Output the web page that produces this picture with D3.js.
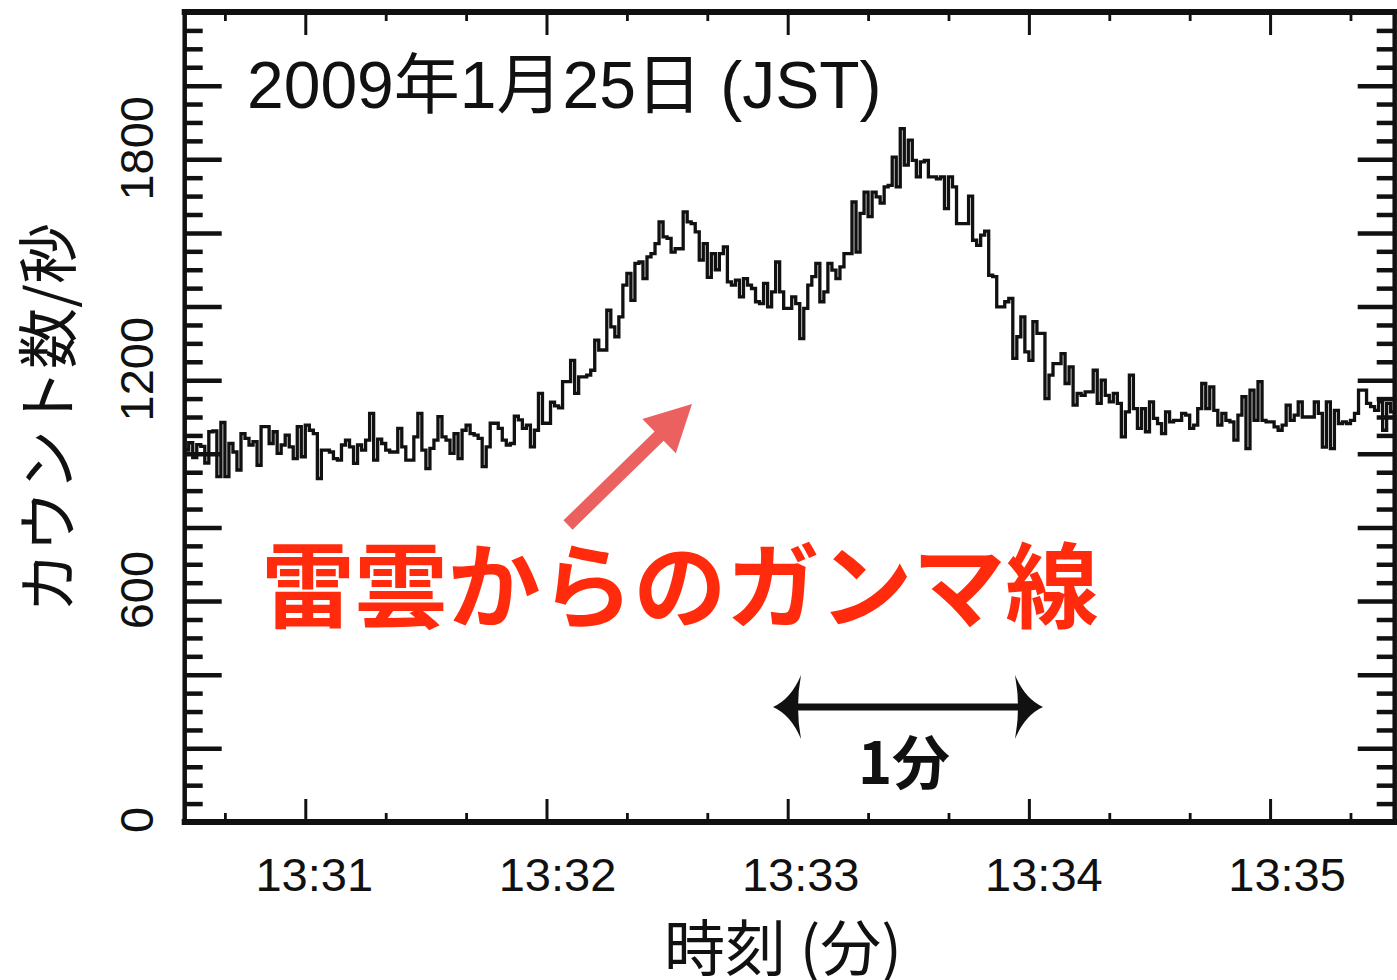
<!DOCTYPE html>
<html>
<head>
<meta charset="utf-8">
<script src="https://cdn.jsdelivr.net/npm/d3@7"></script>
<style>
  html, body { margin: 0; padding: 0; background: #fff; }
  svg { display: block; }
</style>
</head>
<body>
<svg id="chart" width="1397" height="980"></svg>
<script>
// Gamma-ray count rate, 1-second bins, starting 13:30:30 JST (seconds after 13:30:00)
const firstBinSecond = 30;

// counts per second, one array per minute of data
const counts_133030 = [1010,1030,990,1025,1020,975,1060,1062,938,1085,938,1028,1005,956,1055,1042,1024,1033,969,1074,
  1074,1028,1060,1001,1024,1051,1019,987,1074,992,1078,1064,1055,933,1010,1010,1005,987,983,1024,
  1037,1019,974,1024,1010,1037,1110,983,1040,1028,1010,1005,1005,1069,1019,983,983,1046,1110,1010];
const counts_133130 = [960,1015,1037,1101,1046,1037,1001,1055,987,1064,1078,1055,1051,1042,965,1019,1083,1083,1069,1037,
  1024,1028,1102,1092,1069,1078,1019,1064,1164,1083,1083,1140,1130,1125,1196,1196,1254,1164,1209,1209,
  1214,1227,1309,1282,1282,1390,1345,1318,1372,1458,1490,1417,1517,1521,1476,1535,1544,1571,1630,1589];
const counts_133230 = [1585,1548,1557,1557,1657,1630,1625,1603,1526,1571,1479,1544,1500,1544,1562,1467,1458,1472,1426,1476,
  1458,1449,1413,1408,1463,1399,1440,1521,1440,1395,1395,1426,1408,1313,1395,1458,1481,1517,1413,1440,
  1517,1499,1476,1508,1544,1544,1684,1548,1653,1711,1644,1711,1698,1681,1725,1729,1806,1725,1883,1784];
const counts_133330 = [1852,1797,1752,1793,1797,1752,1752,1747,1752,1666,1752,1725,1625,1625,1625,1700,1580,1566,1594,1605,
  1485,1481,1399,1399,1413,1422,1259,1318,1372,1277,1254,1359,1327,1327,1150,1214,1245,1245,1272,1191,
  1236,1132,1164,1159,1168,1168,1227,1137,1200,1159,1141,1164,1137,1046,1114,1214,1123,1069,1123,1060];
const counts_133430 = [1141,1096,1082,1055,1114,1087,1091,1091,1110,1105,1069,1078,1123,1191,1123,1182,1118,1078,1110,1091,
  1087,1037,1105,1155,1014,1173,1091,1196,1091,1087,1087,1073,1064,1078,1132,1091,1105,1141,1100,1100,
  1100,1141,1110,1018,1141,1014,1118,1082,1087,1082,1091,1110,1173,1173,1137,1128,1118,1141,1064,1137,1114];

const xDomainSeconds = [30, 331];
const xMajorTicks = [60, 120, 180, 240, 300];
const xMajorLabels = ["13:31", "13:32", "13:33", "13:34", "13:35"];
const xMinorStep = 20;
const yDomain = [0, 2200];
const yLabelTicks = [0, 600, 1200, 1800];
const yMajorStep = 200;
const yMinorStep = 50;

const titleText = "2009年1月25日 (JST)";
const yTitle = "カウント数/秒";
const xTitle = "時刻 (分)";
const noteText = "雷雲からのガンマ線";
const spanText = "1分";

const latin = "'Liberation Sans', Arial, 'Noto Sans CJK JP', sans-serif";
const cjk = "'Noto Sans CJK JP', 'Liberation Sans', sans-serif";

const svg = d3.select("#chart");
const L = 184.7, R = 1394.7, T = 12, B = 822;

const x = d3.scaleLinear().domain(xDomainSeconds).range([L, R]);
const y = d3.scaleLinear().domain(yDomain).range([B, T]);

const counts = [].concat(counts_133030, counts_133130, counts_133230, counts_133330, counts_133430);
const pts = counts.map((v, i) => [firstBinSecond + i, v]);
pts.push([firstBinSecond + counts.length, counts[counts.length - 1]]);

// --- axes ---
const minorX = d3.range(40, 331, xMinorStep).filter(t => !xMajorTicks.includes(t));
const majorY = d3.range(0, 2201, yMajorStep);
const minorY = d3.range(0, 2201, yMinorStep).filter(v => v % yMajorStep !== 0);

function styleAxis(g, w) {
  g.select(".domain").remove();
  g.selectAll(".tick line").attr("stroke", "#111").attr("stroke-width", w);
  g.selectAll(".tick text").remove();
}

// bottom + top, minute ticks and 20-second ticks
svg.append("g").attr("transform", `translate(0,${B})`)
  .call(d3.axisBottom(x).tickValues(minorX).tickSize(-9)).call(g => styleAxis(g, 2.8));
svg.append("g").attr("transform", `translate(0,${B})`)
  .call(d3.axisBottom(x).tickValues(xMajorTicks).tickSize(-23)).call(g => styleAxis(g, 3));
svg.append("g").attr("transform", `translate(0,${T})`)
  .call(d3.axisTop(x).tickValues(minorX).tickSize(-9)).call(g => styleAxis(g, 2.8));
svg.append("g").attr("transform", `translate(0,${T})`)
  .call(d3.axisTop(x).tickValues(xMajorTicks).tickSize(-23)).call(g => styleAxis(g, 3));

// left + right count ticks
svg.append("g").attr("transform", `translate(${L},0)`)
  .call(d3.axisLeft(y).tickValues(minorY).tickSize(-18)).call(g => styleAxis(g, 4.5));
svg.append("g").attr("transform", `translate(${L},0)`)
  .call(d3.axisLeft(y).tickValues(majorY).tickSize(-37)).call(g => styleAxis(g, 4.5));
svg.append("g").attr("transform", `translate(${R},0)`)
  .call(d3.axisRight(y).tickValues(minorY).tickSize(-18)).call(g => styleAxis(g, 4.5));
svg.append("g").attr("transform", `translate(${R},0)`)
  .call(d3.axisRight(y).tickValues(majorY).tickSize(-37)).call(g => styleAxis(g, 4.5));

// tick labels (time labels sit a little right of their ticks)
svg.append("g").selectAll("text").data(xMajorTicks).join("text")
  .attr("x", (d, i) => x(d) + 9 + i * 2).attr("y", 891)
  .attr("text-anchor", "middle")
  .attr("font-family", latin).attr("font-size", 47).attr("fill", "#111")
  .text((d, i) => xMajorLabels[i]);

svg.append("g").selectAll("text").data(yLabelTicks).join("text")
  .attr("transform", d => `translate(153,${y(d) - (d === 0 ? 2 : 11)}) rotate(-90)`)
  .attr("text-anchor", "middle")
  .attr("font-family", latin).attr("font-size", 47).attr("fill", "#111")
  .text(d => d);

// --- frame ---
const frame = svg.append("g").attr("stroke", "#111").attr("stroke-linecap", "square");
frame.append("line").attr("x1", L).attr("x2", R).attr("y1", T).attr("y2", T).attr("stroke-width", 6);
frame.append("line").attr("x1", L).attr("x2", R).attr("y1", B).attr("y2", B).attr("stroke-width", 6);
frame.append("line").attr("x1", L).attr("x2", L).attr("y1", T).attr("y2", B).attr("stroke-width", 4.5);
frame.append("line").attr("x1", R).attr("x2", R).attr("y1", T).attr("y2", B).attr("stroke-width", 4.5);

// --- count-rate histogram ---
const line = d3.line().x(d => x(d[0])).y(d => y(d[1])).curve(d3.curveStepAfter);
svg.append("path").datum(pts)
  .attr("d", line).attr("fill", "none")
  .attr("stroke", "#111").attr("stroke-width", 3.3).attr("stroke-linejoin", "miter");

// --- titles ---
svg.append("text").attr("x", 247).attr("y", 108)
  .attr("font-family", latin).attr("font-size", 66).attr("fill", "#111")
  .text(titleText);

svg.append("text").attr("transform", "translate(71,418) rotate(-90)")
  .attr("text-anchor", "middle")
  .attr("font-family", cjk).attr("font-size", 61).attr("fill", "#111")
  .text(yTitle);

svg.append("text").attr("x", 783).attr("y", 971)
  .attr("text-anchor", "middle")
  .attr("font-family", cjk).attr("font-size", 61).attr("fill", "#111")
  .text(xTitle);

// --- annotation ---
svg.append("text").attr("x", 680).attr("y", 580)
  .attr("text-anchor", "middle").attr("dominant-baseline", "central")
  .attr("font-family", cjk).attr("font-weight", "bold").attr("font-size", 93)
  .attr("fill", "#ff2b0c")
  .text(noteText);

// pointer arrow toward the first rise
const ax0 = 568, ay0 = 525, ax1 = 692, ay1 = 404;
const ang = Math.atan2(ay1 - ay0, ax1 - ax0);
const headLen = 46, headHalf = 24;
const bx = ax1 - headLen * Math.cos(ang), by = ay1 - headLen * Math.sin(ang);
svg.append("line").attr("x1", ax0).attr("y1", ay0).attr("x2", bx + 4 * Math.cos(ang)).attr("y2", by + 4 * Math.sin(ang))
  .attr("stroke", "#ea615f").attr("stroke-width", 13);
svg.append("path")
  .attr("d", `M${ax1},${ay1} L${bx + headHalf * Math.sin(ang)},${by - headHalf * Math.cos(ang)} L${bx - headHalf * Math.sin(ang)},${by + headHalf * Math.cos(ang)} Z`)
  .attr("fill", "#ea615f");

// one-minute span marker
const sy = 707, sx0 = 773, sx1 = 1043;
svg.append("line").attr("x1", sx0 + 10).attr("x2", sx1 - 10).attr("y1", sy).attr("y2", sy)
  .attr("stroke", "#111").attr("stroke-width", 7);
function headPath(tip, dir) {
  const b = tip + dir * 28;
  return `M${tip},${sy} Q${tip + dir * 18},${sy - 8} ${b},${sy - 32} Q${tip + dir * 22},${sy} ${b},${sy + 32} Q${tip + dir * 18},${sy + 8} ${tip},${sy} Z`;
}
svg.append("path").attr("d", headPath(sx0, 1)).attr("fill", "#111");
svg.append("path").attr("d", headPath(sx1, -1)).attr("fill", "#111");

svg.append("text").attr("x", 904).attr("y", 784)
  .attr("text-anchor", "middle")
  .attr("font-family", cjk).attr("font-weight", "bold").attr("font-size", 58).attr("fill", "#111")
  .text(spanText);
</script>
</body>
</html>
